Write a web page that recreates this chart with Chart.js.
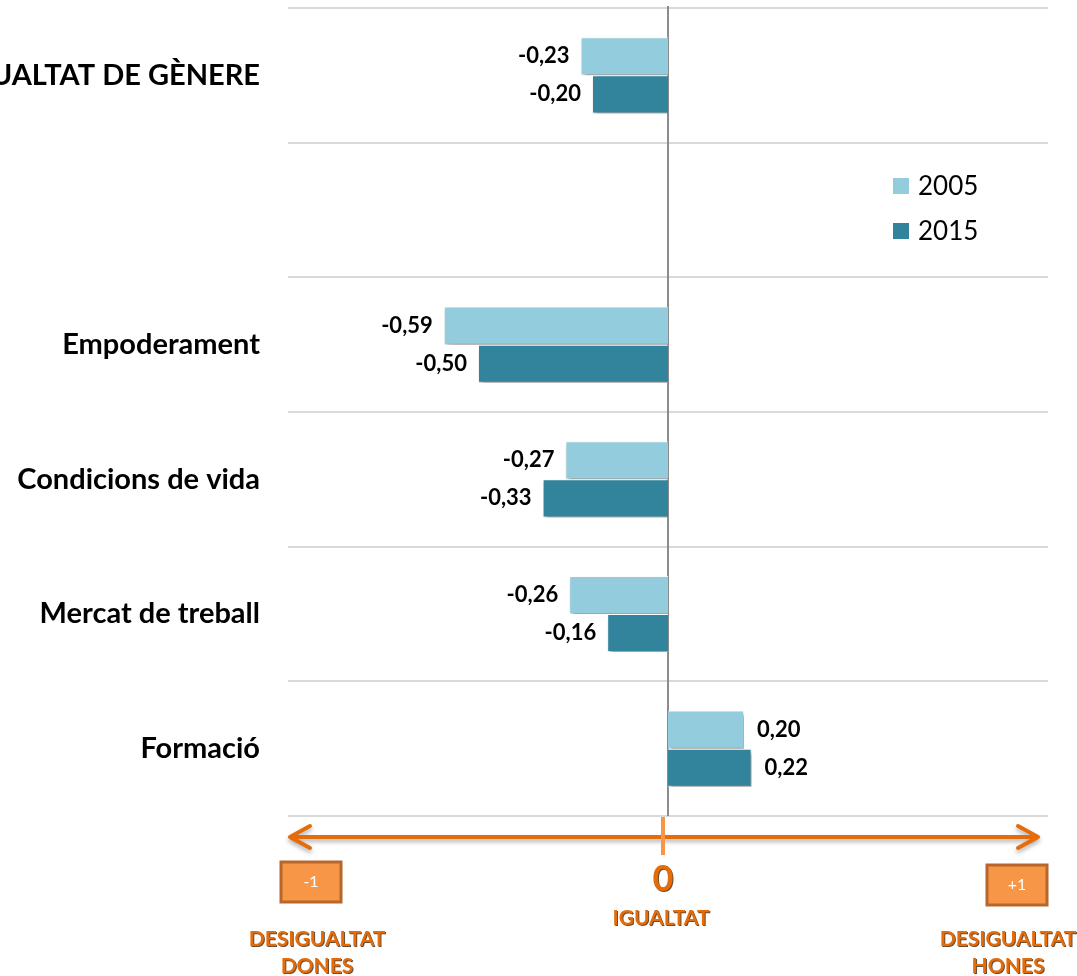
<!DOCTYPE html>
<html>
<head>
<meta charset="utf-8">
<script src="https://cdn.jsdelivr.net/npm/chart.js@4/dist/chart.umd.min.js"></script>
<style>
  body { margin: 0; background: #fff; }
</style>
</head>
<body>
<canvas id="gender-chart" width="1077" height="976"></canvas>
<script>
const categories = [
    'DESIGUALTAT DE GÈNERE',
    '',
    'Empoderament',
    'Condicions de vida',
    'Mercat de treball',
    'Formació',
];
const seriesLabels = ['2005', '2015'];
const values2005 = [-0.23, null, -0.59, -0.27, -0.26, 0.20];
const values2015 = [-0.20, null, -0.50, -0.33, -0.16, 0.22];

// labels under the orange arrow
const endTicks = ['-1', '+1'];
const endCaptions = [['DESIGUALTAT', 'DONES'], ['DESIGUALTAT', 'HONES']];
const centerTick = '0';
const centerCaption = 'IGUALTAT';

const colors = ['#93cddd', '#31849b'];
const orange = '#e46c0a';
const font = 'Lato';

const fmt = v => v.toFixed(2).replace('.', ',');

// gray line at zero
const zeroLine = {
    id: 'zeroLine',
    beforeDatasetsDraw(chart) {
        const { ctx, chartArea, scales } = chart;
        const x0 = Math.round(scales.x.getPixelForValue(0));
        ctx.save();
        ctx.strokeStyle = '#8c8c8c';
        ctx.lineWidth = 2;
        ctx.beginPath();
        ctx.moveTo(x0, chartArea.top - 2);
        ctx.lineTo(x0, chartArea.bottom);
        ctx.stroke();
        ctx.restore();
    },
};

// drop shadow on the bars
const barShadow = {
    id: 'barShadow',
    beforeDatasetsDraw(chart) {
        const ctx = chart.ctx;
        ctx.save();
        ctx.shadowColor = 'rgba(0,0,0,0.4)';
        ctx.shadowOffsetX = 2;
        ctx.shadowOffsetY = 3;
        ctx.shadowBlur = 4;
    },
    afterDatasetsDraw(chart) {
        chart.ctx.restore();
    },
};

const valueLabels = {
    id: 'valueLabels',
    afterDatasetsDraw(chart) {
        const ctx = chart.ctx;
        ctx.save();
        ctx.font = `bold 22px ${font}`;
        ctx.fillStyle = '#000';
        ctx.textBaseline = 'middle';
        chart.data.datasets.forEach((ds, i) => {
            chart.getDatasetMeta(i).data.forEach((bar, j) => {
                const v = ds.data[j];
                if (v == null) return;
                if (v < 0) {
                    ctx.textAlign = 'right';
                    ctx.fillText(fmt(v), bar.x - 11, bar.y);
                } else {
                    ctx.textAlign = 'left';
                    ctx.fillText(fmt(v), bar.x + 13, bar.y);
                }
            });
        });
        ctx.restore();
    },
};

const legendBox = {
    id: 'legendBox',
    afterDraw(chart) {
        const ctx = chart.ctx;
        ctx.save();
        ctx.font = `26px ${font}`;
        ctx.textBaseline = 'middle';
        ctx.textAlign = 'left';
        chart.data.datasets.forEach((ds, i) => {
            const y = 186 + i * 45;
            ctx.fillStyle = ds.backgroundColor;
            ctx.fillRect(893, y - 8, 16, 16);
            ctx.fillStyle = '#000';
            ctx.fillText(ds.label, 918, y + 1);
        });
        ctx.restore();
    },
};

const orangeText = (ctx, text, x, y, size) => {
    ctx.save();
    ctx.font = `bold ${size}px ${font}`;
    ctx.textAlign = 'center';
    ctx.textBaseline = 'middle';
    ctx.shadowColor = 'rgba(70,35,0,0.8)';
    ctx.shadowOffsetX = 1;
    ctx.shadowOffsetY = 1;
    ctx.fillStyle = orange;
    ctx.fillText(text, x, y);
    ctx.restore();
};

const scaleArrow = {
    id: 'scaleArrow',
    afterDraw(chart) {
        const { ctx, chartArea, scales } = chart;
        const y = chartArea.bottom + 21;
        const left = scales.x.getPixelForValue(-1) + 2;
        const right = scales.x.getPixelForValue(1) - 10;
        const cx = scales.x.getPixelForValue(0) - 5;

        ctx.save();
        ctx.shadowColor = 'rgba(0,0,0,0.3)';
        ctx.shadowOffsetY = 3;
        ctx.shadowBlur = 4;
        ctx.strokeStyle = orange;
        ctx.lineWidth = 4;
        ctx.lineCap = 'round';
        ctx.lineJoin = 'round';
        ctx.beginPath();
        ctx.moveTo(left, y);
        ctx.lineTo(right, y);
        ctx.moveTo(left + 20, y - 11);
        ctx.lineTo(left, y);
        ctx.lineTo(left + 20, y + 11);
        ctx.moveTo(right - 20, y - 11);
        ctx.lineTo(right, y);
        ctx.lineTo(right - 20, y + 11);
        ctx.stroke();
        ctx.restore();

        ctx.save();
        ctx.strokeStyle = '#f79646';
        ctx.lineWidth = 4;
        ctx.beginPath();
        ctx.moveTo(cx, chartArea.bottom + 1);
        ctx.lineTo(cx, chartArea.bottom + 39);
        ctx.stroke();
        ctx.restore();

        orangeText(ctx, centerTick, cx, y + 42, 36);
        orangeText(ctx, centerCaption, cx - 2, y + 81, 21);

        const boxCenters = [left + 21, right - 21];
        const captionCenters = [left + 27, right - 30];
        endTicks.forEach((t, i) => {
            const bx = boxCenters[i];
            const by = y + 45 + i * 3;
            ctx.save();
            ctx.fillStyle = '#f79646';
            ctx.strokeStyle = '#b7672b';
            ctx.lineWidth = 3;
            ctx.fillRect(bx - 30, by - 20, 60, 40);
            ctx.strokeRect(bx - 30, by - 20, 60, 40);
            ctx.fillStyle = '#fff';
            ctx.font = `16px ${font}`;
            ctx.textAlign = 'center';
            ctx.textBaseline = 'middle';
            ctx.fillText(t, bx, by);
            ctx.restore();
            endCaptions[i].forEach((line, k) => {
                orangeText(ctx, line, captionCenters[i], y + 102 + k * 27, 21);
            });
        });
    },
};

const data = {
    labels: categories,
    datasets: [
        { label: seriesLabels[0], data: values2005, backgroundColor: colors[0] },
        { label: seriesLabels[1], data: values2015, backgroundColor: colors[1] },
    ],
};

const config = {
    type: 'bar',
    data: data,
    options: {
        indexAxis: 'y',
        responsive: false,
        animation: false,
        layout: { padding: { top: 8, right: 29, bottom: 160, left: 0 } },
        datasets: {
            bar: {
                categoryPercentage: 0.565,
                barPercentage: 1,
                borderColor: 'rgba(255,255,255,0.85)',
                borderWidth: 1,
            },
        },
        plugins: {
            legend: { display: false },
            tooltip: { enabled: false },
        },
        scales: {
            x: { display: false, min: -1, max: 1 },
            y: {
                grid: { offset: true, color: '#d9d9d9', lineWidth: 2, drawTicks: false },
                border: { display: false },
                ticks: {
                    padding: 28,
                    color: '#000',
                    font: { family: font, size: 29, weight: 'bold' },
                },
                afterFit(scale) {
                    scale.width = 288;
                    scale.paddingTop = 0;
                    scale.paddingBottom = 0;
                },
            },
        },
    },
    plugins: [zeroLine, barShadow, valueLabels, legendBox, scaleArrow],
};

new Chart(document.getElementById('gender-chart'), config);
</script>
</body>
</html>
